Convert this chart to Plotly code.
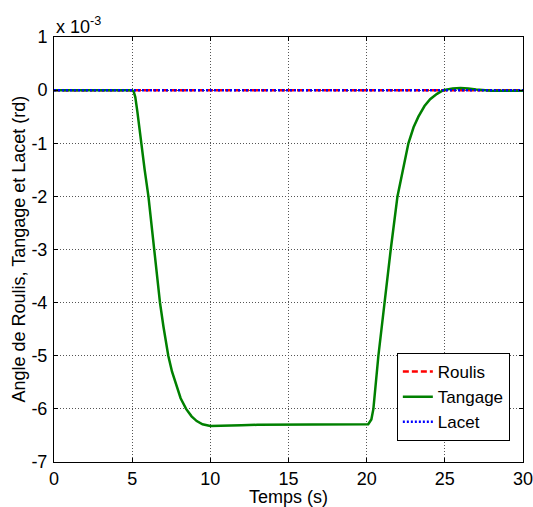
import plotly.graph_objects as go

# Time axis (s) and attitude angles (units of 1e-3 rd)
t_flat = [0, 30]
roulis = [0, 0]
lacet = [0, 0]

t_tangage = [0, 5.0, 5.1, 5.2, 5.33, 5.45, 5.61, 5.8, 6.04, 6.2, 6.40, 6.6, 6.78, 7.0,
             7.31, 7.55, 7.8, 8.1, 8.45, 8.8, 9.13, 9.5, 10.0, 11.0, 12.0, 13.0, 15.0,
             18.0, 20.1, 20.3, 20.43, 20.75, 21.13, 21.54, 21.97, 22.3, 22.67, 23.0,
             23.31, 23.7, 24.06, 24.5, 24.9, 25.5, 26.0, 26.5, 27.0, 28.0, 30.0]
tangage = [0, 0, -0.03, -0.13, -0.4, -0.7, -1.0, -1.5, -2.0, -2.45, -3.0, -3.5, -4.0, -4.45,
           -5.0, -5.3, -5.55, -5.8, -6.0, -6.14, -6.23, -6.29, -6.32, -6.32, -6.31, -6.30, -6.30,
           -6.29, -6.29, -6.2, -6.0, -5.0, -4.0, -3.0, -2.0, -1.5, -1.0, -0.7,
           -0.5, -0.3, -0.17, -0.07, 0.0, 0.03, 0.04, 0.03, 0.01, -0.01, -0.01]

x_ticks = [0, 5, 10, 15, 20, 25, 30]
y_ticks = [-7, -6, -5, -4, -3, -2, -1, 0, 1]

font = "Arial, Liberation Sans, sans-serif"
FS = 18

fig = go.Figure()
fig.add_trace(go.Scatter(x=t_flat, y=roulis, mode="lines", name="Roulis",
                         line=dict(color="#FF0000", width=2.5, dash="6px,3px")))
fig.add_trace(go.Scatter(x=t_tangage, y=tangage, mode="lines", name="Tangage",
                         line=dict(color="#008000", width=2.5)))
fig.add_trace(go.Scatter(x=t_flat, y=lacet, mode="lines", name="Lacet",
                         line=dict(color="#0000FF", width=2.5, dash="2px,2px")))

axis_common = dict(showline=True, linecolor="black", linewidth=1, mirror="ticks",
                   ticks="inside", ticklen=4, tickcolor="black", automargin=False,
                   ticklabeloverflow="allow",
                   showgrid=True, gridcolor="#555555", gridwidth=1, griddash="1px,2px",
                   zeroline=False, tickfont=dict(family=font, size=FS, color="black"))

fig.update_xaxes(range=[0, 30], tickvals=x_ticks, ticktext=[str(v) for v in x_ticks],
                 ticklabelstandoff=0, **axis_common)
fig.update_yaxes(range=[-7, 1], tickvals=y_ticks, ticktext=[str(v) for v in y_ticks],
                 ticklabelstandoff=2, **axis_common)

fig.add_annotation(text="x 10<sup>-3</sup>", xref="paper", yref="paper", x=0, y=1,
                   xanchor="left", yanchor="bottom", showarrow=False, yshift=-2,
                   font=dict(family=font, size=FS, color="black"))
fig.add_annotation(text="Temps (s)", xref="paper", yref="paper", x=0.5, y=0,
                   xanchor="center", yanchor="middle", showarrow=False, yshift=-35,
                   font=dict(family=font, size=FS, color="black"))
fig.add_annotation(text="Angle de Roulis, Tangage et Lacet (rd)", xref="paper", yref="paper",
                   x=0, y=0.5, xanchor="center", yanchor="middle", textangle=-90,
                   showarrow=False, xshift=-36,
                   font=dict(family=font, size=FS, color="black"))

fig.update_layout(
    width=533, height=507,
    margin=dict(l=54, r=10, t=37, b=45, autoexpand=False),
    paper_bgcolor="white", plot_bgcolor="white",
    showlegend=True,
    legend=dict(x=0.731, y=0.2565, xanchor="left", yanchor="top",
                bgcolor="white", bordercolor="black", borderwidth=1,
                font=dict(family=font, size=17, color="black"),
                tracegroupgap=0, itemwidth=30),
)

fig.write_html("out.html", config={"displayModeBar": False},
               post_script="document.body.style.margin='0px';document.body.style.overflow='hidden';")
